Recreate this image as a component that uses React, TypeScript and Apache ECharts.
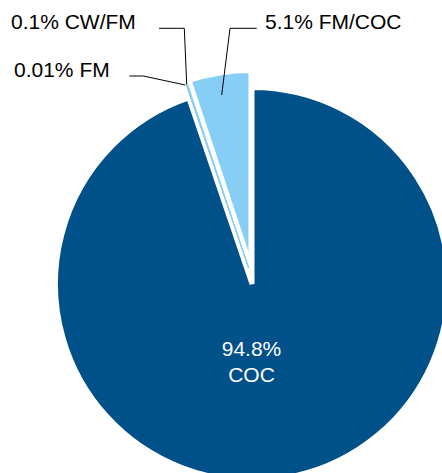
import React, { useEffect, useRef } from 'react';
import * as echarts from 'echarts';

// ---- data ----
const categories = ['COC', 'FM', 'CW/FM', 'FM/COC'];
const shares = [94.8, 0.01, 0.1, 5.1];
// which drawn layer (exploded piece) each slice belongs to
const sliceLayer = ['main', 'sliver', 'sliver', 'wedge'];

// ---- styles / layout ----
const DARK = '#00508A';
const LIGHT = '#87CEF6';
const sliceColors = [DARK, LIGHT, LIGHT, LIGHT];
const FONT = "'Liberation Sans', Arial, Helvetica, sans-serif";

const labelPlacement: Record<string, any> = {
  'COC': { x: 251.5, y: 361.5, align: 'center' },
  'FM': { x: 14, y: 69.5, align: 'left', line: [[185.3, 85], [143.3, 76], [129.3, 76]] },
  'CW/FM': { x: 11, y: 21, align: 'left', line: [[186.7, 84.3], [184.3, 28.3], [159, 28.3]] },
  'FM/COC': { x: 265, y: 21, align: 'left', line: [[221.7, 95], [230, 28.3], [256.7, 28.3]] },
};

const layers = [
  { key: 'main', center: [252, 284], radius: 196.5, border: 5, borderColor: '#ffffff', join: 'miter' },
  { key: 'wedge', center: [251, 267], radius: 196.5, border: 5, borderColor: '#ffffff', join: 'round' },
  { key: 'sliver', center: [248.6, 268], radius: 193.5, border: 1, borderColor: LIGHT, join: 'round' },
  { key: 'labels', center: [251, 267], radius: 196, border: 0, borderColor: '#ffffff', join: 'round' },
];

export default function App() {
  const ref = useRef<HTMLDivElement>(null);

  useEffect(() => {
    if (!ref.current) return;
    const chart = echarts.init(ref.current, undefined, { renderer: 'svg' });

    const series = layers.map((layer, li) => {
      const isMain = layer.key === 'main';
      const isLabels = layer.key === 'labels';
      return {
        type: 'pie',
        silent: true,
        z: 2 + li,
        center: layer.center,
        radius: [0, layer.radius],
        startAngle: 90,
        clockwise: true,
        avoidLabelOverlap: false,
        animation: false,
        label: {
          position: isMain ? 'inside' : 'outside',
          formatter: isMain ? '{c}%\n{b}' : '{c}% {b}',
          color: isMain ? '#ffffff' : '#000000',
          fontFamily: FONT,
          fontSize: 21,
          lineHeight: 25.5,
        },
        labelLine: {
          show: isLabels,
          lineStyle: { color: '#000000', width: 1 },
        },
        labelLayout: (p: any) => {
          const name = categories[p.dataIndex];
          const spec = labelPlacement[name];
          if (!spec) return {};
          const out: any = { x: spec.x, y: spec.y, align: spec.align, verticalAlign: 'middle' };
          if (spec.line) out.labelLinePoints = spec.line;
          return out;
        },
        data: categories.map((name, i) => {
          const on = !isLabels && sliceLayer[i] === layer.key;
          const showLabel = isLabels ? sliceLayer[i] !== 'main' : isMain && on;
          return {
            name,
            value: shares[i],
            itemStyle: on
              ? {
                  color: sliceColors[i],
                  borderColor: layer.borderColor,
                  borderWidth: layer.border,
                  borderJoin: layer.join,
                  borderMiterLimit: 10,
                }
              : { color: 'rgba(0,0,0,0)', borderWidth: 0 },
            label: { show: showLabel },
            labelLine: { show: isLabels && showLabel },
          };
        }),
      };
    });

    chart.setOption({
      animation: false,
      backgroundColor: '#ffffff',
      series,
    } as any);

    return () => chart.dispose();
  }, []);

  return (
    <div
      ref={ref}
      style={{ position: 'fixed', left: 0, top: 0, width: 442, height: 473 }}
    />
  );
}
